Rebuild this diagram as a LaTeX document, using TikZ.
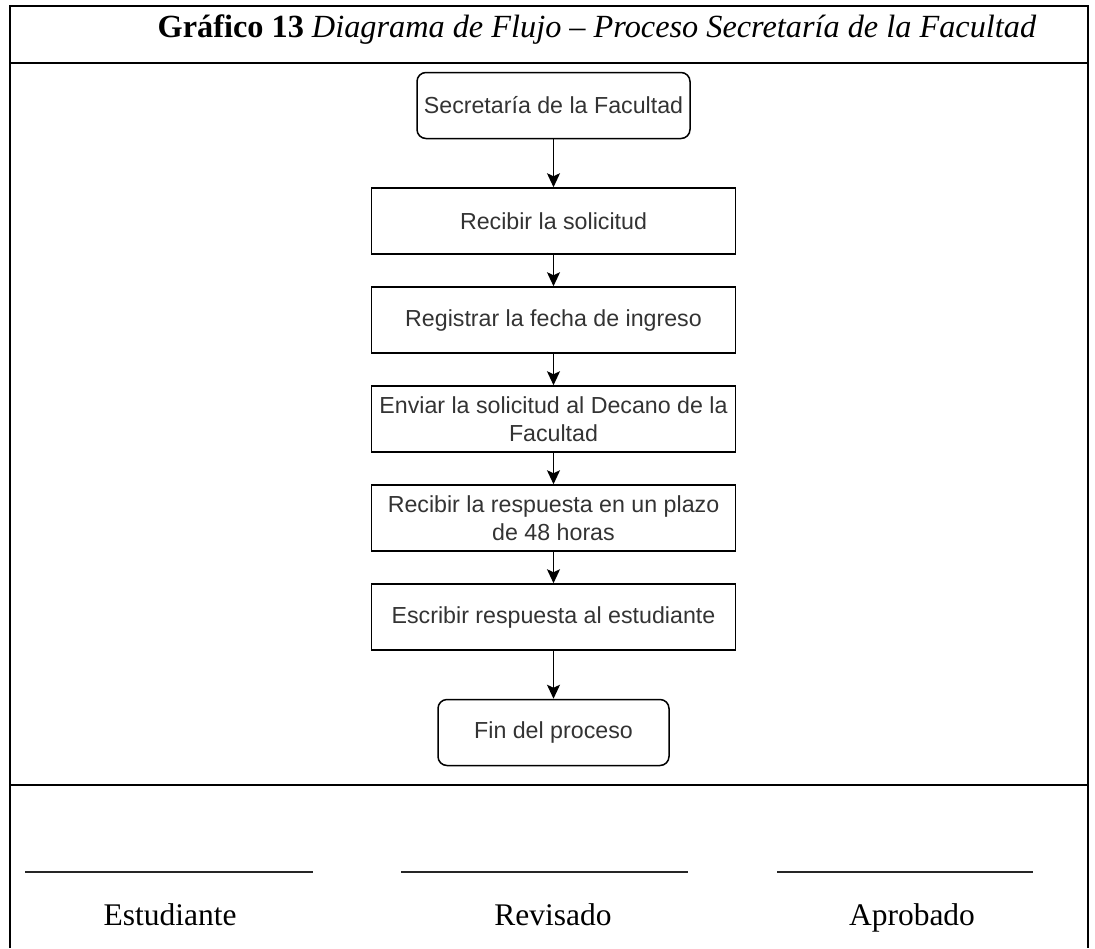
\documentclass[tikz,border=0pt]{standalone}
\usepackage{fontspec}
\setmainfont{Liberation Serif}
\newfontfamily\arialfont{Liberation Sans}
\usetikzlibrary{positioning,arrows.meta}

\begin{document}
\begin{tikzpicture}[x = 1pt, y = -1pt, > = {Stealth[length=14pt, width=13pt, inset=3pt]}, node distance = 99pt, on grid,
  paso/.style = {draw, line width = 1.5pt, minimum width = 364pt, minimum height = 66pt, inner sep = 2pt, align = center, text = black!80, font = \arialfont\fontsize{23.2}{28}\selectfont},
  inicio/.style = {paso, rounded corners = 9pt, minimum width = 273pt},
  firma/.style = {anchor = base, font = \fontsize{31.5}{38}\selectfont}]
	\useasboundingbox (0,0) rectangle (1095,948);
	% marco de la tabla
	\draw[line width = 2.4pt] (10,948) -- (10,6) -- (1088,6) -- (1088,948);
	\draw[line width = 2.4pt] (10,63) -- (1088,63);
	\draw[line width = 2.4pt] (10,785) -- (1088,785);
	\node[firma, font = \fontsize{32.3}{38}\selectfont] (titulo) at (597,37) {\textbf{Gráfico 13} \textit{Diagrama de Flujo – Proceso Secretaría de la Facultad}};
	% diagrama
	\node[inicio] (sec) at (553.5,105.5) {Secretaría de la Facultad};
	\node[paso] (rec) [below = 115.5pt of sec] {Recibir la solicitud};
	\node[paso] (reg) [below = of rec] {Registrar la fecha de ingreso};
	\node[paso] (env) [below = of reg] {Enviar la solicitud al Decano de la\\ Facultad};
	\node[paso] (resp) [below = of env] {Recibir la respuesta en un plazo\\ de 48 horas};
	\node[paso] (esc) [below = of resp] {Escribir respuesta al estudiante};
	\node[inicio, minimum width = 231pt] (fin) [below = 115.5pt of esc] {Fin del proceso};
	\path[->, line width = 1.5pt] (sec) edge (rec);
	\path[->, line width = 1.5pt] (rec) edge (reg);
	\path[->, line width = 1.5pt] (reg) edge (env);
	\path[->, line width = 1.5pt] (env) edge (resp);
	\path[->, line width = 1.5pt] (resp) edge (esc);
	\path[->, line width = 1.5pt] (esc) edge (fin);
	% firmas
	\draw[line width = 1.3pt, black!85] (25,872) -- (313,872);
	\draw[line width = 1.3pt, black!85] (401,872) -- (688,872);
	\draw[line width = 1.3pt, black!85] (777,872) -- (1033,872);
	\node[firma] (est) at (170,925) {Estudiante};
	\node[firma] (rev) at (553,925) {Revisado};
	\node[firma] (apr) at (912,925) {Aprobado};
\end{tikzpicture}
\end{document}
